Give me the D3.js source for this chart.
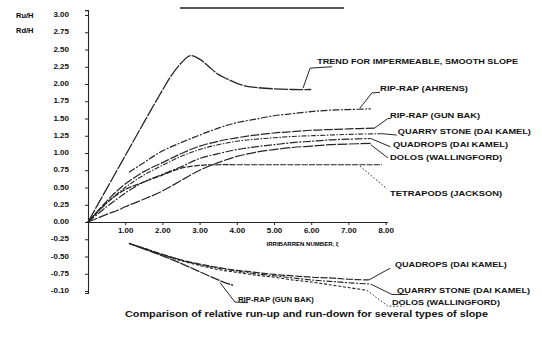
<!DOCTYPE html>
<html><head><meta charset="utf-8">
<script src="https://cdn.jsdelivr.net/npm/d3@7/dist/d3.min.js"></script>
<style>
html,body{margin:0;padding:0;background:#fff;}
svg{display:block;font-family:"Liberation Sans",Arial,sans-serif;}
</style></head>
<body><svg id="c" width="542" height="345"></svg>
<script>
// ---------- DATA ----------
const xTickValues = [1,2,3,4,5,6,7,8];
const xTickLabels = ["1.00","2.00","3.00","4.00","5.00","6.00","7.00","8.00"];
const yTickValues = [3,2.75,2.5,2.25,2,1.75,1.5,1.25,1,0.75,0.5,0.25,0,-0.25,-0.5,-0.75,-1];
const yTickLabels = ["3.00","2.75","2.50","2.25","2.00","1.75","1.50","1.25","1.00","0.75","0.50","0.25","0.00","-0.25","-0.50","-0.75","-0.10"];

// run-up (Ru/H) vs Irribarren number
const trend      = [[0,0],[0.5,0.48],[1,0.96],[1.5,1.44],[2,1.91],[2.25,2.13],[2.5,2.3],[2.75,2.41],[3,2.36],[3.25,2.25],[3.5,2.14],[3.75,2.07],[4,2.01],[4.25,1.97],[4.5,1.95],[5,1.93],[5.5,1.92],[6,1.92]];
const ripAhrens  = [[1.1,0.72],[1.5,0.86],[2,1.03],[2.5,1.15],[3,1.26],[3.5,1.36],[4,1.44],[4.5,1.49],[5,1.54],[5.5,1.57],[6,1.6],[6.5,1.62],[7,1.63],[7.6,1.64]];
const ripGunBak  = [[0,0],[0.5,0.3],[0.8,0.46],[1,0.55],[1.5,0.73],[2,0.86],[2.5,0.99],[3,1.1],[3.5,1.17],[4,1.22],[4.5,1.26],[5,1.29],[5.5,1.31],[6,1.33],[6.5,1.34],[7,1.35],[7.7,1.36]];
const quarryUp   = [[0,0],[0.5,0.27],[1,0.5],[1.5,0.68],[2,0.82],[2.5,0.95],[3,1.05],[3.5,1.12],[4,1.17],[4.5,1.2],[5,1.22],[5.5,1.24],[6,1.25],[6.5,1.26],[7,1.27],[7.9,1.28]];
const quadropsUp = [[0,0],[0.5,0.22],[0.8,0.34],[1,0.42],[1.5,0.58],[2,0.69],[2.5,0.8],[3,0.92],[3.5,0.99],[4,1.05],[4.5,1.09],[5,1.12],[5.5,1.15],[6,1.17],[6.5,1.19],[7,1.2],[7.6,1.21]];
const dolosUp    = [[0,0],[0.5,0.11],[0.8,0.17],[1,0.22],[1.5,0.33],[2,0.45],[2.5,0.6],[3,0.75],[3.5,0.86],[4,0.95],[4.5,1.01],[5,1.05],[5.5,1.08],[6,1.1],[6.5,1.12],[7,1.13],[7.6,1.14]];
const tetrapods  = [[0,0],[0.5,0.28],[1,0.47],[1.5,0.58],[2,0.68],[2.5,0.78],[3,0.82],[3.5,0.83],[4,0.83],[5,0.83],[6,0.83],[7,0.83],[7.9,0.83]];

// run-down (Rd/H)
const gunBakDown   = [[1.1,-0.31],[1.5,-0.39],[2,-0.49],[2.5,-0.6],[3,-0.72],[3.5,-0.84],[3.9,-0.92]];
const quadropsDown = [[1.1,-0.31],[1.5,-0.38],[2,-0.47],[2.5,-0.55],[3,-0.61],[3.5,-0.66],[4,-0.7],[4.5,-0.73],[5,-0.76],[5.5,-0.78],[6,-0.8],[6.5,-0.81],[7,-0.83],[7.55,-0.84]];
const quarryDown   = [[1.2,-0.33],[1.5,-0.38],[2,-0.47],[2.5,-0.55],[3,-0.62],[3.5,-0.67],[4,-0.71],[4.5,-0.75],[5,-0.78],[5.5,-0.81],[6,-0.84],[6.5,-0.86],[7,-0.88],[7.6,-0.9]];
const dolosDown    = [[1.3,-0.35],[2,-0.48],[2.5,-0.56],[3,-0.63],[3.5,-0.69],[4,-0.73],[4.5,-0.77],[5,-0.8],[5.5,-0.84],[6,-0.87],[6.5,-0.91],[7,-0.95],[7.5,-0.99]];

// ---------- LAYOUT ----------
const svg = d3.select("#c");
const x = d3.scaleLinear().domain([0, 8.05]).range([88, 88 + 8.05*37.2]);
const y = d3.scaleLinear().domain([-1.03, 3.07]).range([222 + 1.03*69, 222 - 3.07*69]);
const ink = "#262626";

// scan edge at the top of the sheet
svg.append("line").attr("x1",180).attr("x2",344).attr("y1",8).attr("y2",8)
  .attr("stroke","#222").attr("stroke-width",1.6);

// axes
const yAxis = d3.axisLeft(y).tickValues(yTickValues)
  .tickFormat((d,i)=>yTickLabels[i]).tickSize(3).tickPadding(16);
const gy = svg.append("g").attr("transform",`translate(${x(0)},0)`).call(yAxis);
gy.select(".domain").attr("stroke",ink).attr("stroke-width",1.1);
gy.selectAll(".tick line").attr("stroke",ink);
gy.selectAll("text").attr("font-size",8).attr("font-weight","bold").attr("fill","#111").attr("dy","0.2em");

const xAxis = d3.axisBottom(x).tickValues(xTickValues)
  .tickFormat((d,i)=>xTickLabels[i]).tickSize(3).tickSizeOuter(0).tickPadding(2);
const gx = svg.append("g").attr("transform",`translate(0,${y(0)})`).call(xAxis);
gx.select(".domain").attr("stroke",ink).attr("stroke-width",1.1);
gx.selectAll(".tick line").attr("stroke",ink);
gx.selectAll("text").attr("font-size",8).attr("font-weight","bold").attr("fill","#111");

svg.append("text").attr("x",16).attr("y",y(3)).attr("dy","0.35em")
  .attr("font-size",7.5).attr("font-weight","bold").text("Ru/H");
svg.append("text").attr("x",16).attr("y",y(2.75)-2).attr("dy","0.35em")
  .attr("font-size",7.5).attr("font-weight","bold").text("Rd/H");

svg.append("text").attr("x",x(4.8)).attr("y",y(-0.32)).attr("dy","0.35em")
  .attr("font-size",4.6).attr("font-weight","bold").attr("textLength",72)
  .attr("lengthAdjust","spacingAndGlyphs").text("IRRIBARREN NUMBER, ξ");

// curves
const line = d3.line().x(d=>x(d[0])).y(d=>y(d[1])).curve(d3.curveCatmullRom.alpha(0.5));
const series = [
  {d:trend, dash:"14,1.2", w:1.3},
  {d:ripAhrens, dash:"7,1.5,2,1.5", w:1.2},
  {d:ripGunBak, dash:"9,1.5", w:1.2},
  {d:quarryUp, dash:"5,1.5,1.5,1.5", w:1.1},
  {d:quadropsUp, dash:"8,1.5,2,1.5", w:1.2},
  {d:dolosUp, dash:"10,1.5", w:1.2},
  {d:tetrapods, dash:"6,1.2", w:1.2},
  {d:gunBakDown, dash:"10,1", w:1.3},
  {d:quadropsDown, dash:"7,1.5", w:1.2},
  {d:quarryDown, dash:"6,1.5,2,1.5", w:1.1},
  {d:dolosDown, dash:"3,1.8", w:1.1}
];
svg.append("g").selectAll("path").data(series).join("path")
  .attr("d",s=>line(s.d)).attr("fill","none").attr("stroke",ink)
  .attr("stroke-width",s=>s.w).attr("stroke-dasharray",s=>s.dash);

// labels with leaders (data coordinates)
const notes = [
  {t:"TREND FOR IMPERMEABLE, SMOOTH SLOPE", at:[6.16,2.33], len:201, lead:[[5.78,1.94],[5.97,2.23],[6.56,2.25]]},
  {t:"RIP-RAP (AHRENS)", at:[7.85,1.94], len:88, lead:[[7.31,1.65],[7.63,1.87],[7.85,1.88]]},
  {t:"RIP-RAP (GUN BAK)", at:[8.12,1.54], len:90, lead:[[7.7,1.36],[8.06,1.5],[8.14,1.5]]},
  {t:"QUARRY STONE (DAI KAMEL)", at:[8.33,1.32], len:133, lead:[[7.9,1.28],[8.3,1.26]]},
  {t:"QUADROPS (DAI KAMEL)", at:[8.2,1.13], len:115, lead:[[7.6,1.21],[8.13,1.09]]},
  {t:"DOLOS (WALLINGFORD)", at:[8.12,0.94], len:112, lead:[[7.6,1.12],[8.06,0.93]]},
  {t:"TETRAPODS (JACKSON)", at:[8.12,0.42], len:112, lead:[[7.31,0.81],[8.04,0.48]], dot:true},
  {t:"QUADROPS (DAI KAMEL)", at:[8.25,-0.62], len:112, lead:[[7.55,-0.84],[8.12,-0.67]]},
  {t:"QUARRY STONE (DAI KAMEL)", at:[8.31,-1.0], len:133, lead:[[7.6,-0.9],[8.17,-1.05],[8.6,-1.05]], fs:7},
  {t:"DOLOS (WALLINGFORD)", at:[8.17,-1.17], len:108, lead:[[7.5,-0.99],[8.06,-1.22],[8.5,-1.22]], dot:true, fs:7},
  {t:"RIP-RAP (GUN BAK)", at:[4.03,-1.13], len:76, lead:[[3.55,-0.88],[3.95,-1.16],[4.3,-1.17]], fs:7}
];
const straight = d3.line().x(d=>x(d[0])).y(d=>y(d[1]));
svg.append("g").selectAll("path").data(notes).join("path")
  .attr("d",n=>straight(n.lead)).attr("fill","none").attr("stroke",ink)
  .attr("stroke-width",1).attr("stroke-dasharray",n=>n.dot?"1.5,2":null);
svg.append("g").selectAll("text").data(notes).join("text")
  .attr("x",n=>x(n.at[0])).attr("y",n=>y(n.at[1])).attr("dy","0.35em")
  .attr("font-size",n=>n.fs||7.4).attr("font-weight","bold").attr("fill","#111")
  .attr("textLength",n=>n.len).attr("lengthAdjust","spacingAndGlyphs")
  .text(n=>n.t);

// caption
svg.append("text").attr("x",125).attr("y",313.5).attr("dy","0.35em")
  .attr("font-size",9.6).attr("font-weight","bold").attr("fill","#111")
  .attr("textLength",363).attr("lengthAdjust","spacingAndGlyphs")
  .text("Comparison of relative run-up and run-down for several types of slope");
</script></body></html>
